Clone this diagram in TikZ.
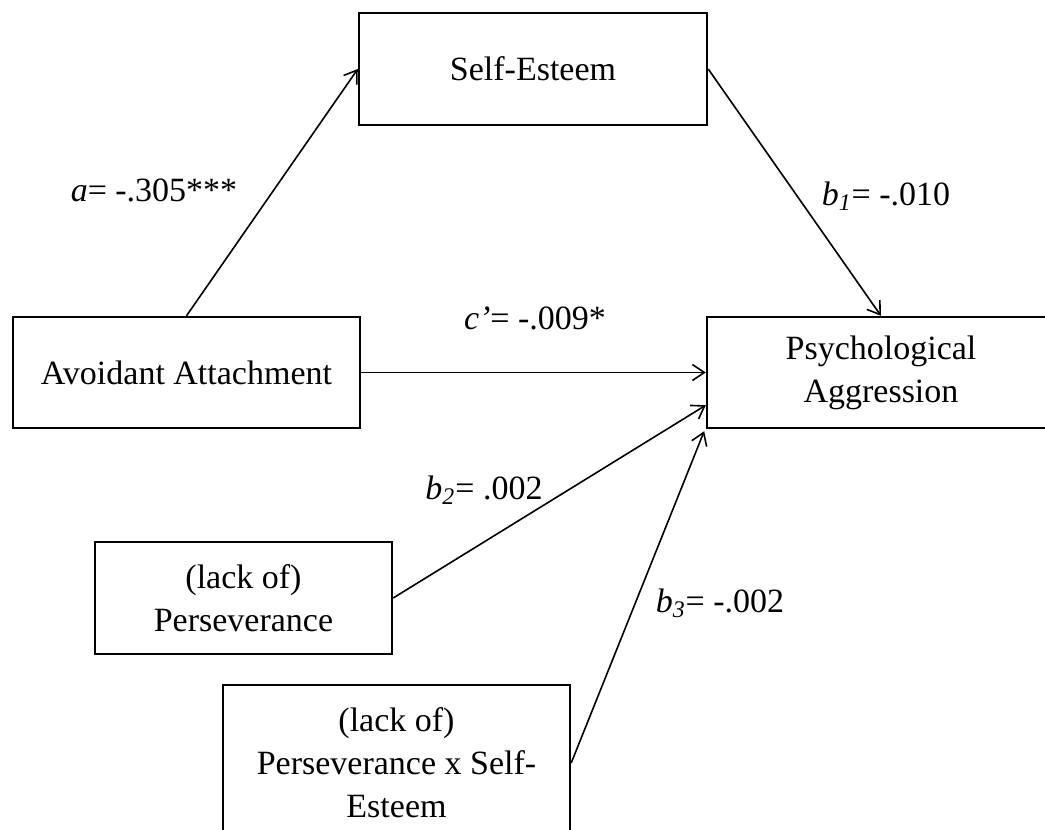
\documentclass[tikz,border=0pt]{standalone}
\usepackage{fontspec}
\setmainfont{Liberation Serif}
\usetikzlibrary{arrows.meta}
\begin{document}
\begin{tikzpicture}[x=0.5pt,y=-0.5pt,
  every node/.style={font=\fontsize{17}{21.5}\selectfont, inner sep=0pt},
  varbox/.style={draw, line width=1.2pt, align=center},
  path/.style={line width=0.8pt, -{Straight Barb[length=6pt,width=8pt,line width=0.8pt]}},
  coef/.style={anchor=center}]
\useasboundingbox (0,0) rectangle (1045,830);
\clip (0,0) rectangle (1045,830);
% variables
\node[varbox, minimum width=174pt, minimum height=56pt] (self) at (533,69) {Self-Esteem};
\node[varbox, minimum width=173.5pt, minimum height=55.5pt] (avoid) at (186.5,372.5) {Avoidant Attachment};
\node[varbox, minimum width=174pt, minimum height=55.5pt] (psych) at (881,372.5) {Psychological\\Aggression};
\node[varbox, minimum width=148.5pt, minimum height=56pt] (persev) at (243.5,598) {(lack of)\\Perseverance};
\node[varbox, minimum width=173.5pt, minimum height=78pt] (inter) at (396.5,763) {(lack of)\\Perseverance x Self-\\Esteem};
% paths
\draw[path] (avoid.north) -- (self.west);
\draw[path] (self.east) -- (psych.north);
\draw[path] (avoid.east) -- (psych.west);
\coordinate (inB) at ([yshift=12pt]psych.south west);
\coordinate (inC) at ([xshift=-0.8pt,yshift=-1pt]psych.south west);
\draw[path] (persev.east) -- (inB);
\draw[path] (inter.east) -- (inC);
% coefficients
\node[coef] (la) at (154,190) {\textit{a}= -.305***};
\node[coef] (lb1) at (886,196) {\textit{b}\textsubscript{\textit{1}}= -.010};
\node[coef] (lc) at (535,318) {\textit{c’}= -.009*};
\node[coef] (lb2) at (484,490) {\textit{b}\textsubscript{\textit{2}}= .002};
\node[coef] (lb3) at (720,603) {\textit{b}\textsubscript{\textit{3}}= -.002};
\end{tikzpicture}
\end{document}
